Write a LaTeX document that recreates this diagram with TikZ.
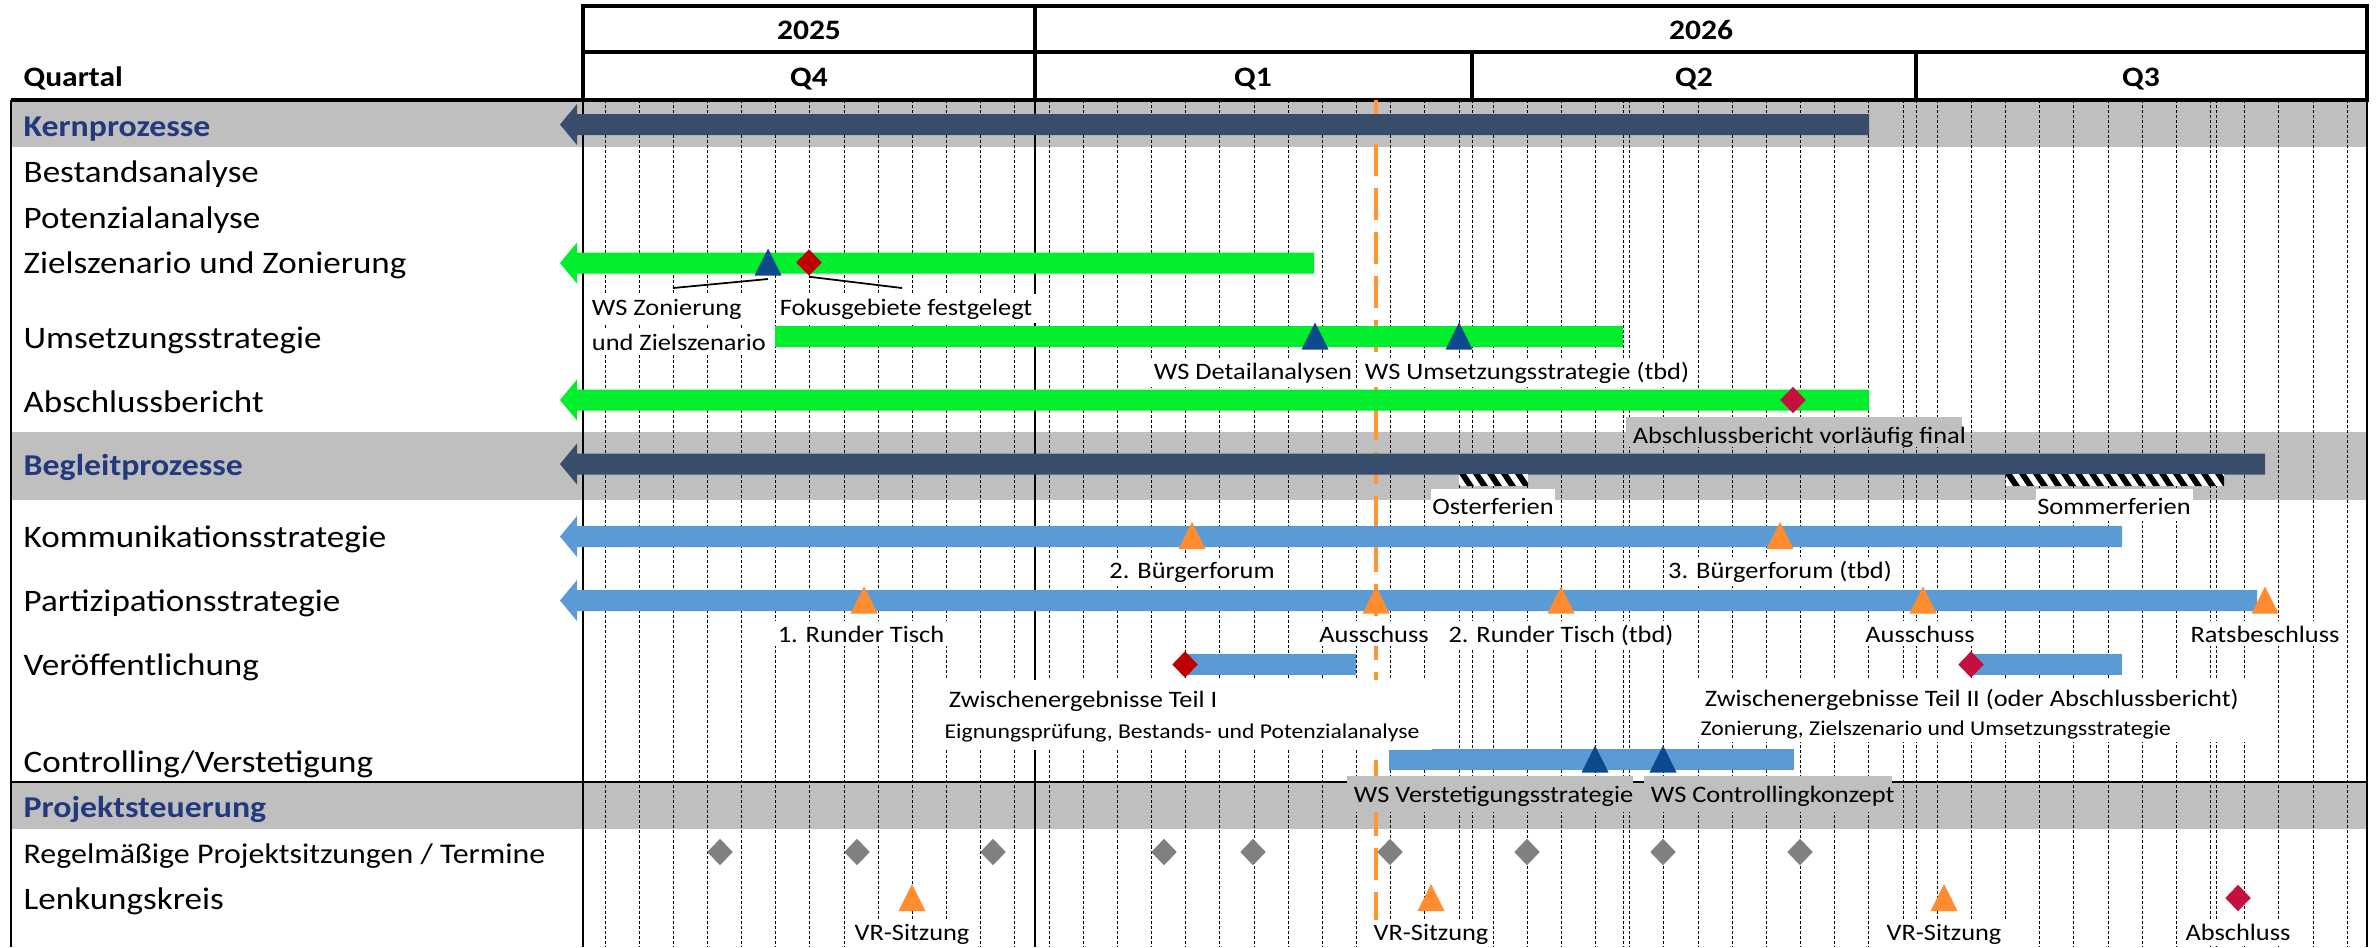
\documentclass[tikz,border=0pt]{standalone}
\usepackage{fontspec}
\setmainfont{Carlito}[FakeStretch=1.12]
\usetikzlibrary{shapes.geometric}

\definecolor{bandgray}{HTML}{BFBFBF}
\definecolor{darkbar}{HTML}{384C6C}
\definecolor{greenbar}{HTML}{00EE2C}
\definecolor{bluebar}{HTML}{5B9BD5}
\definecolor{orangem}{HTML}{FF8C2E}
\definecolor{todayor}{HTML}{FF9533}
\definecolor{navytri}{HTML}{0B4A8C}
\definecolor{redm}{HTML}{C00000}
\definecolor{crimson}{HTML}{C5103F}
\definecolor{graym}{HTML}{808080}
\definecolor{headblue}{HTML}{22397F}

\tikzset{
  rowlab/.style={anchor=base west, inner sep=0pt, font=\fontsize{8.9}{10}\selectfont},
  grplab/.style={anchor=base west, inner sep=0pt, text=headblue, font=\fontsize{8.6}{10}\selectfont\bfseries},
  hdlab/.style={anchor=base, inner sep=0pt, font=\fontsize{8}{10}\selectfont\bfseries},
  note/.style={anchor=base, fill=white, inner sep=1.2pt, font=\fontsize{6.7}{8}\selectfont},
  subnote/.style={anchor=base west, inner sep=0pt, font=\fontsize{6}{7}\selectfont},
  weekline/.style={line width=0.28pt, dash pattern=on 0.03cm off 0.02cm},
  todayline/.style={todayor, line width=1.15pt, dash pattern=on 0.32cm off 0.12cm},
  dia/.style={diamond, fill=#1, draw=none, inner sep=0pt, minimum width=0.26cm, minimum height=0.27cm}
}

% triangle milestone: name, x, y, colour
\newcommand\tri[4]{\fill[#4] (#2,#3) coordinate (#1) ++(-13.5,13.5) -- ++(13.5,-27) -- ++(13.5,27) -- cycle;}
% bar with arrow tip to the left: colour, y centre, right end
\newcommand\lbar[3]{\fill[#1] (560,#2) -- (577,#2-20.5) -- (577,#2-10.5) -- (#3,#2-10.5)
  -- (#3,#2+10.5) -- (577,#2+10.5) -- (577,#2+20.5) -- cycle;}

\begin{document}
\begin{tikzpicture}[x=0.01cm, y=-0.01cm]
\useasboundingbox (0,0) rectangle (2376,947);

% bands
\fill[bandgray] (11,100) rectangle (2367,147);
\fill[bandgray] (11,432) rectangle (2367,500);
\fill[bandgray] (11,782) rectangle (2367,829);

% weeks
\foreach \k in {0,...,51}
  \draw[weekline] ({605+34.16*\k},100) -- ({605+34.16*\k},947);
\foreach \x in {1472,1623,1916,2216}
  \draw[weekline] (\x,100) -- (\x,947);
\draw[line width=0.6pt] (1035,100) -- (1035,947);

% header and frame
\draw[line width=1pt] (583,6) rectangle (2367,100);
\draw[line width=1pt] (583,52) -- (2367,52);
\draw[line width=1pt] (1035,6) -- (1035,100);
\draw[line width=1pt] (1472,52) -- (1472,100) (1916,52) -- (1916,100);
\draw[line width=1pt] (11,100) -- (2367,100);
\draw[line width=0.8pt] (11,782) -- (2367,782);
\draw[line width=0.8pt] (11,100) -- (11,947) (583,100) -- (583,947) (2367,100) -- (2367,947);

\node[hdlab] (y25) at (809,39) {2025};
\node[hdlab] (y26) at (1701,39) {2026};
\node[hdlab, anchor=base west] (quartal) at (23,86) {Quartal};
\node[hdlab] (q4) at (809,86) {Q4};
\node[hdlab] (q1) at (1253,86) {Q1};
\node[hdlab] (q2) at (1694,86) {Q2};
\node[hdlab] (q3) at (2141,86) {Q3};

% today
\draw[todayline] (1376,100) -- (1376,947);

% bars
\lbar{darkbar}{124.5}{1869}
\lbar{greenbar}{263}{1314}
\fill[greenbar] (775,326) rectangle (1623,347);
\lbar{greenbar}{400}{1869}
\lbar{darkbar}{464}{2265}
\lbar{bluebar}{536.5}{2122}
\lbar{bluebar}{600.5}{2257}
\fill[bluebar] (1185,654) rectangle (1356,675);
\fill[bluebar] (1971,654) rectangle (2122,675);
\fill[bluebar] (1389,749) rectangle (1794,770);

% holidays
\fill[white] (1459,474) rectangle (1528,486);
\fill[white] (2006,474) rectangle (2224,486);
\begin{scope}
\clip (1459,474) rectangle (1528,486) (2006,474) rectangle (2224,486);
\foreach \h in {1445,1459,...,2230}
  \fill (\h,474) -- ++(7,0) -- ++(8,12) -- ++(-7,0) -- cycle;
\end{scope}
\fill[white] (1431,489) rectangle (1555,521);
\fill[white] (2036,489) rectangle (2193,521);
\node[note, fill=none] (oster) at (1493,514) {Osterferien};
\node[note, fill=none] (sommer) at (2114,514) {Sommerferien};

% label boxes
\fill[bandgray] (1626,417) rectangle (1962,447);
\fill[bandgray] (1347,776) rectangle (1633,812);
\fill[bandgray] (1644,776) rectangle (1892,812);
\fill[white] (941,680) rectangle (1432,750);
\fill[white] (1697,680) rectangle (2245,742);

% row labels
\node[grplab] (kern) at (23,136) {Kernprozesse};
\node[rowlab] (best) at (23,182) {Bestandsanalyse};
\node[rowlab] (pot) at (23,228) {Potenzialanalyse};
\node[rowlab] (ziel) at (23,273) {Zielszenario und Zonierung};
\node[rowlab] (ums) at (23,348) {Umsetzungsstrategie};
\node[rowlab] (absb) at (23,412) {Abschlussbericht};
\node[grplab] (begl) at (23,475) {Begleitprozesse};
\node[rowlab] (komm) at (23,547) {Kommunikationsstrategie};
\node[rowlab] (part) at (23,611) {Partizipationsstrategie};
\node[rowlab] (veroe) at (23,675) {Veröffentlichung};
\node[rowlab] (contr) at (23,772) {Controlling/Verstetigung};
\node[grplab] (steu) at (23,817) {Projektsteuerung};
\node[rowlab, font=\fontsize{8.1}{10}\selectfont] (regel) at (23,863) {Regelmäßige Projektsitzungen / Termine};
\node[rowlab] (lenk) at (23,909) {Lenkungskreis};

% milestones
\tri{wszon}{768}{262}{navytri}
\node[dia=redm] (fokus) at (809,262.5) {};
\tri{wsdet}{1315}{336}{navytri}
\tri{wsums}{1459}{336}{navytri}
\node[dia=crimson] (abfin) at (1793,400) {};
\tri{bf2}{1192}{535.5}{orangem}
\tri{bf3}{1780}{535.5}{orangem}
\tri{rt1}{864}{600}{orangem}
\tri{aus1}{1376}{600}{orangem}
\tri{rt2}{1561}{600}{orangem}
\tri{aus2}{1923}{600}{orangem}
\tri{rat}{2265}{600}{orangem}
\node[dia=redm] (zw1) at (1185,664.5) {};
\node[dia=crimson] (zw2) at (1971,664.5) {};
\tri{wsvst}{1595}{759}{navytri}
\tri{wsctl}{1663}{759}{navytri}
\foreach \x [count=\i] in {720,857,993,1164,1253,1390,1527,1663,1800}
  \node[dia=graym] (ps\i) at (\x,852) {};
\tri{vr1}{912}{897.5}{orangem}
\tri{vr2}{1431}{897.5}{orangem}
\tri{vr3}{1944}{897.5}{orangem}
\node[dia=crimson] (absch) at (2238,898) {};

% notes
\coordinate (zonend) at (673,288);
\coordinate (fokend) at (902,288);
\draw[line width=0.5pt] (wszon) ++(0,17) -- (zonend);
\draw[line width=0.5pt] (fokus.south) -- (fokend);
\node[note, anchor=base west] (lzon) at (587,315) {WS Zonierung};
\node[note, anchor=base west] (lzon2) at (587,350) {und Zielszenario};
\node[note, anchor=base west] (lfok) at (775,315) {Fokusgebiete festgelegt};
\node[note, anchor=base west] (ldet) at (1149,379) {WS Detailanalysen};
\node[note, anchor=base west] (lums) at (1360,379) {WS Umsetzungsstrategie (tbd)};
\node[note, anchor=base west, fill=none] (labf) at (1628,443) {Abschlussbericht vorläufig final};
\node[note] (lbf2) at (1192,578) {2. Bürgerforum};
\node[note] (lbf3) at (1780,578) {3. Bürgerforum (tbd)};
\node[note] (lrt1) at (861,642) {1. Runder Tisch};
\node[note] (laus1) at (1374,642) {Ausschuss};
\node[note] (lrt2) at (1561,642) {2. Runder Tisch (tbd)};
\node[note] (laus2) at (1920,642) {Ausschuss};
\node[note] (lrat) at (2265,642) {Ratsbeschluss};
\node[note, anchor=base west, fill=none] (lzw1) at (944,707) {Zwischenergebnisse Teil I};
\node[subnote] (lzw1b) at (944,738) {Eignungsprüfung, Bestands- und Potenzialanalyse};
\node[note, anchor=base west, fill=none] (lzw2) at (1700,706) {Zwischenergebnisse Teil II (oder Abschlussbericht)};
\node[subnote] (lzw2b) at (1700,735) {Zonierung, Zielszenario und Umsetzungsstrategie};
\node[note, anchor=base west, fill=none] (lvst) at (1349,802) {WS Verstetigungsstrategie};
\node[note, anchor=base west, fill=none] (lctl) at (1646,802) {WS Controllingkonzept};
\node[note] (lvr1) at (912,940) {VR-Sitzung};
\node[note] (lvr2) at (1431,940) {VR-Sitzung};
\node[note] (lvr3) at (1944,940) {VR-Sitzung};
\node[note] (labs) at (2238,940) {Abschluss};
\end{tikzpicture}
\end{document}
